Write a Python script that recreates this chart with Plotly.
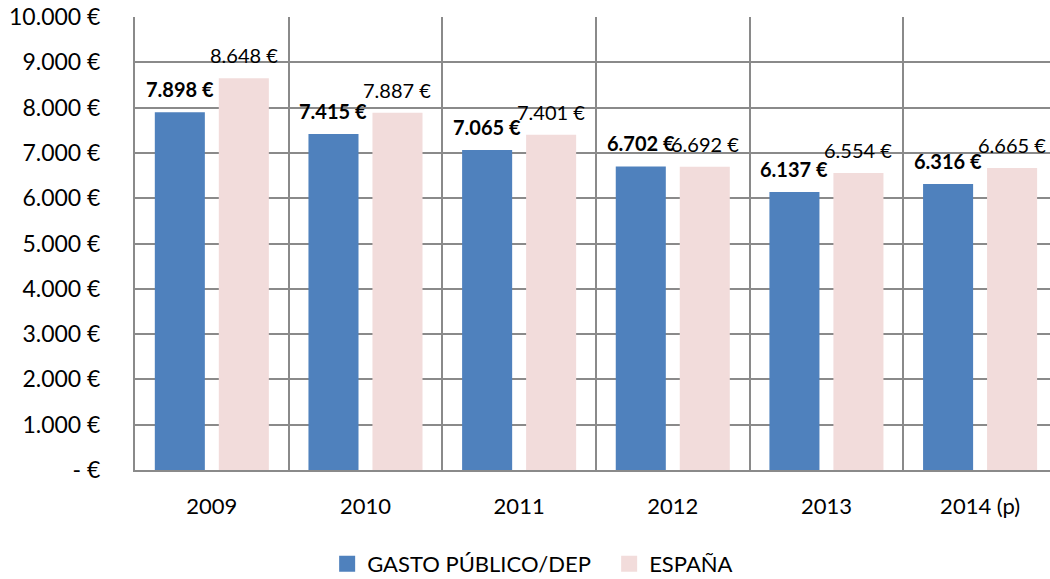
import plotly.graph_objects as go

years = ["2009", "2010", "2011", "2012", "2013", "2014 (p)"]
gasto = [7898, 7415, 7065, 6702, 6137, 6316]
espana = [8648, 7887, 7401, 6692, 6554, 6665]
gasto_labels = ["7.898 €", "7.415 €", "7.065 €", "6.702 €", "6.137 €", "6.316 €"]
espana_labels = ["8.648 €", "7.887 €", "7.401 €", "6.692 €", "6.554 €", "6.665 €"]
y_ticks = [0, 1000, 2000, 3000, 4000, 5000, 6000, 7000, 8000, 9000, 10000]
y_ticktext = ["- €", "1.000 €", "2.000 €", "3.000 €", "4.000 €", "5.000 €",
              "6.000 €", "7.000 €", "8.000 €", "9.000 €", "10.000 €"]

FONT = "Lato"
BLUE = "#4f81bd"
PINK = "#f2dcdb"
GRID = "#8a8a8a"

fig = go.Figure()
fig.add_trace(go.Bar(name="GASTO PÚBLICO/DEP", x=years, y=gasto, showlegend=False,
                     marker=dict(color=BLUE, line=dict(width=0))))
fig.add_trace(go.Bar(name="ESPAÑA", x=years, y=espana, showlegend=False,
                     marker=dict(color=PINK, line=dict(width=0))))
# legend entries with larger square swatches
fig.add_trace(go.Scatter(name="GASTO PÚBLICO/DEP", x=[None], y=[None], mode="markers",
                         marker=dict(symbol="square", size=18, color=BLUE)))
fig.add_trace(go.Scatter(name="ESPAÑA", x=[None], y=[None], mode="markers",
                         marker=dict(symbol="square", size=18, color=PINK)))

for i, yr in enumerate(years):
    fig.add_annotation(x=i, y=gasto[i], text="<b>" + gasto_labels[i] + "</b>", showarrow=False,
                       xshift=-32, yshift=23, yanchor="middle",
                       font=dict(family=FONT, size=20, color="#000"))
    fig.add_annotation(x=i, y=espana[i], text=espana_labels[i], showarrow=False,
                       xshift=32, yshift=23, yanchor="middle",
                       font=dict(family=FONT, size=20, color="#000"))

fig.update_layout(
    width=1050, height=579,
    margin=dict(l=135, r=0, t=17, b=109, autoexpand=False),
    paper_bgcolor="white", plot_bgcolor="white",
    barmode="group", bargap=0.167, bargroupgap=0.218,
    font=dict(family=FONT, size=22, color="#000"),
    showlegend=True,
    legend=dict(orientation="h", x=0.21, xanchor="left", y=-0.161, yanchor="top",
                font=dict(family=FONT, size=22), itemwidth=30, traceorder="normal",
                entrywidth=237, entrywidthmode="pixels"),
)
fig.update_xaxes(range=[-0.5, 5.455], tickson="boundaries", showgrid=True, gridcolor=GRID, gridwidth=2,
                 showline=True, linecolor=GRID, linewidth=2, ticks="", ticklen=0, automargin=False,
                 tickfont=dict(family=FONT, size=22), ticklabelstandoff=16)
fig.update_yaxes(range=[0, 10000], tickvals=y_ticks, ticktext=y_ticktext, showgrid=True, gridcolor=GRID,
                 gridwidth=2, showline=True, linecolor=GRID, linewidth=2, ticks="", zeroline=False,
                 automargin=False, tickfont=dict(family=FONT, size=23), ticklabelstandoff=28,
                 ticklabeloverflow="allow")

# remove the page's default body margin so the figure fills the window exactly
fig.write_html("out.html", config={"displayModeBar": False},
               post_script="document.body.style.margin='0';")
